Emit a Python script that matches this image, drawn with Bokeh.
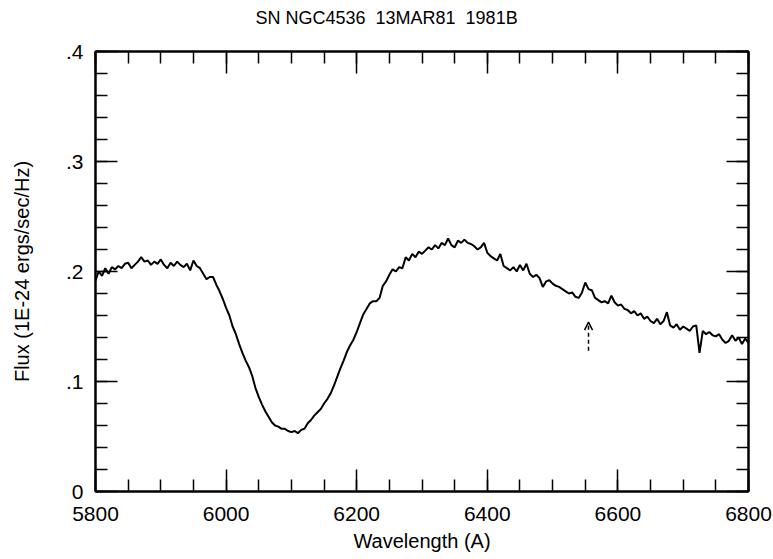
from bokeh.plotting import figure
from bokeh.models import (LinearAxis, FixedTicker, Range1d, Arrow, OpenHead,
                          CustomLabelingPolicy, CustomJSTickFormatter)
from bokeh.embed import file_html
from bokeh.resources import INLINE

title_text = "SN NGC4536\u00a0 13MAR81\u00a0 1981B"
x_label = "Wavelength (A)"
y_label = "Flux (1E-24 ergs/sec/Hz)"

x_ticks = [5800, 6000, 6200, 6400, 6600, 6800]
x_minor = list(range(5800, 6801, 50))
y_ticks = [0, 0.1, 0.2, 0.3, 0.4]
y_tick_labels = ["0", ".1", ".2", ".3", ".4"]
y_minor = [0, 0.02, 0.04, 0.06, 0.08, 0.1, 0.12, 0.14, 0.16, 0.18, 0.2,
           0.22, 0.24, 0.26, 0.28, 0.3, 0.32, 0.34, 0.36, 0.38, 0.4]

wl_start, wl_step = 5800, 5
flux = [
    .192, .200, .196, .203, .198, .204, .202, .205, .203, .207,
    .208, .203, .206, .209, .213, .209, .210, .206, .209, .207,
    .211, .206, .203, .208, .205, .209, .206, .204, .207, .201,
    .210, .205, .203, .198, .193, .195, .195, .188, .182, .175,
    .167, .160, .150, .143, .134, .126, .119, .113, .105, .094,
    .086, .079, .073, .068, .063, .060, .059, .057, .057, .055,
    .054, .055, .053, .056, .057, .062, .065, .069, .072, .075,
    .080, .084, .089, .096, .104, .112, .119, .127, .133, .138,
    .145, .153, .161, .166, .171, .173, .173, .176, .187, .191,
    .197, .202, .200, .204, .203, .213, .210, .216, .213, .218,
    .216, .219, .222, .220, .224, .221, .226, .224, .230, .224,
    .222, .228, .226, .229, .226, .225, .223, .220, .222, .226,
    .217, .214, .212, .210, .216, .205, .203, .201, .204, .200,
    .206, .201, .207, .198, .195, .197, .194, .186, .191, .192,
    .189, .187, .186, .184, .182, .180, .181, .177, .176, .181,
    .190, .184, .183, .176, .174, .172, .173, .171, .178, .172,
    .169, .170, .166, .165, .162, .164, .160, .162, .157, .159,
    .155, .153, .157, .152, .155, .163, .151, .149, .152, .147,
    .150, .148, .146, .150, .151, .126, .146, .143, .145, .142,
    .141, .143, .138, .135, .137, .142, .137, .140, .134, .139,
    .135,
]
wavelength = [wl_start + i * wl_step for i in range(len(flux))]

# Marker arrow (H-alpha position)
arrow_x = 6555
arrow_y_bottom = 0.128
arrow_y_top = 0.154

FONT = "Liberation Sans"

p = figure(width=773, height=559, output_backend="svg", toolbar_location=None,
           x_range=Range1d(5800, 6800), y_range=Range1d(0, 0.4),
           min_border_left=95, min_border_right=25, min_border_top=51,
           min_border_bottom=68)

p.background_fill_color = "white"
p.border_fill_color = "white"
p.outline_line_color = "black"
p.outline_line_width = 2
p.xgrid.visible = False
p.ygrid.visible = False

p.title.text = title_text
p.title.align = "left"
p.title.offset = 160
p.title.text_font = FONT
p.title.text_font_size = "18px"
p.title.text_font_style = "normal"
p.title.text_color = "black"
p.title.standoff = 8

hide_labels = CustomLabelingPolicy(code="for (const i of indices) indices.unset(i)")

def style_axis(ax, ticks, minor):
    ax.ticker = FixedTicker(ticks=ticks, minor_ticks=minor)
    ax.axis_line_width = 2
    ax.axis_line_color = "black"
    ax.major_tick_in = 22
    ax.major_tick_out = 0
    ax.minor_tick_in = 12
    ax.minor_tick_out = 0
    ax.major_tick_line_width = 1.5
    ax.minor_tick_line_width = 1.5
    ax.major_tick_line_color = "black"
    ax.minor_tick_line_color = "black"
    ax.major_label_text_font = FONT
    ax.major_label_text_font_size = "21px"
    ax.major_label_text_color = "black"
    ax.axis_label_text_font = FONT
    ax.axis_label_text_font_size = "20px"
    ax.axis_label_text_font_style = "normal"
    ax.axis_label_text_color = "black"

xb = p.xaxis[0]
style_axis(xb, x_ticks, x_minor)
xb.axis_label = x_label
xb.major_label_standoff = 15
xb.axis_label_standoff = 6

yl = p.yaxis[0]
style_axis(yl, y_ticks, y_minor)
yl.axis_label = y_label
yl.major_label_standoff = 12
yl.axis_label_standoff = 30
yl.major_label_overrides = dict(zip(y_ticks, y_tick_labels))

# top axis: ticks only (labels hidden, but their space keeps the title up)
xt = LinearAxis()
style_axis(xt, x_ticks, x_minor)
xt.major_label_policy = hide_labels
xt.major_label_standoff = 3
p.add_layout(xt, "above")

# right axis: ticks only
yr = LinearAxis()
style_axis(yr, y_ticks, y_minor)
yr.formatter = CustomJSTickFormatter(code="return ''")
yr.major_label_policy = hide_labels
yr.major_label_standoff = 0
p.add_layout(yr, "right")

p.line(wavelength, flux, line_color="black", line_width=2)

p.add_layout(Arrow(end=OpenHead(size=8, line_width=1.5, line_color="black"),
                   x_start=arrow_x, y_start=arrow_y_bottom,
                   x_end=arrow_x, y_end=arrow_y_top,
                   line_dash="4 3", line_width=1.5, line_color="black"))

open("out.html", "w").write(file_html(p, INLINE))
